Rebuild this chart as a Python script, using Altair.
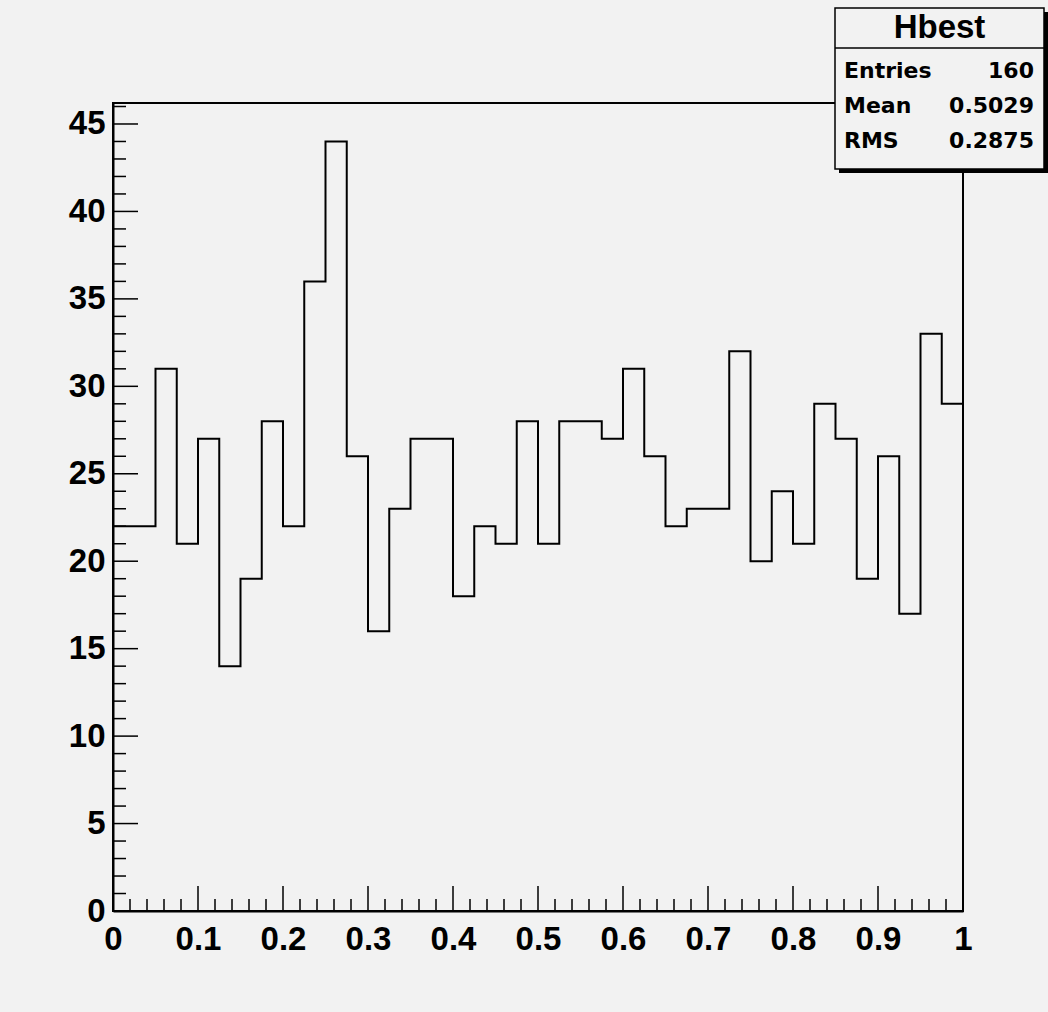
import altair as alt
import pandas as pd

# ---- data ----
n_bins = 40
x_min, x_max = 0.0, 1.0
counts = [22, 22, 31, 21, 27, 14, 19, 28, 22, 36,
          44, 26, 16, 23, 27, 27, 18, 22, 21, 28,
          21, 28, 28, 27, 31, 26, 22, 23, 23, 32,
          20, 24, 21, 29, 27, 19, 26, 17, 33, 29]

x_major_ticks = [0, 0.1, 0.2, 0.3, 0.4, 0.5, 0.6, 0.7, 0.8, 0.9, 1.0]
x_minor_ticks = [round(i * 0.02, 2) for i in range(51) if i % 5 != 0]
y_major_ticks = [0, 5, 10, 15, 20, 25, 30, 35, 40, 45]
y_minor_ticks = [i for i in range(47) if i % 5 != 0]
y_max = 46.2

stats_title = "Hbest"
stats_labels = ["Entries", "Mean", "RMS"]
stats_values = ["160", "0.5029", "0.2875"]

# ---- layout constants (style) ----
W, H = 850, 808
BG = "#f2f2f2"
FONT = "Liberation Sans"
STAT_FONT = "DejaVu Sans"

width_bin = (x_max - x_min) / n_bins
edges = [x_min + i * width_bin for i in range(n_bins)] + [x_max]
hist_df = pd.DataFrame({"x": edges, "y": counts + [counts[-1]]})

xscale = alt.Scale(domain=[x_min, x_max], nice=False, zero=False)
yscale = alt.Scale(domain=[0, y_max], nice=False)

xaxis = alt.Axis(values=x_major_ticks, format="~g", ticks=False,
                 grid=False, labelFlush=False, labelFontSize=33,
                 labelFontWeight="bold", labelFont=FONT,
                 labelColor="black", labelPadding=12,
                 domainColor="black", domainWidth=2, title=None)
yaxis = alt.Axis(values=y_major_ticks, ticks=False, grid=False,
                 labelFontSize=33, labelFontWeight="bold",
                 labelFont=FONT, labelColor="black", labelPadding=8,
                 domainColor="black", domainWidth=2, title=None)

hist = alt.Chart(hist_df).mark_line(
    interpolate="step-after", color="black", strokeWidth=2
).encode(
    x=alt.X("x:Q", scale=xscale, axis=xaxis),
    y=alt.Y("y:Q", scale=yscale, axis=yaxis),
)

def yticks(vals, length):
    return alt.Chart(pd.DataFrame({"y": vals})).mark_rule(
        color="black", strokeWidth=1.5
    ).encode(y=alt.Y("y:Q", scale=yscale, axis=yaxis),
             x=alt.value(0), x2=alt.value(length))

def xticks(vals, length):
    return alt.Chart(pd.DataFrame({"x": vals})).mark_rule(
        color="black", strokeWidth=1.5
    ).encode(x=alt.X("x:Q", scale=xscale, axis=xaxis),
             y=alt.value(H), y2=alt.value(H - length))

one = alt.Data(values=[{}])

# stats box (pixel positions relative to plot origin)
bx0, bx1, by0, by1 = 722, 931, -95, 66
shadow = alt.Chart(one).mark_rect(color="black").encode(
    x=alt.value(bx0 + 4), x2=alt.value(bx1 + 4),
    y=alt.value(by0 + 4), y2=alt.value(by1 + 4))
box = alt.Chart(one).mark_rect(fill=BG, stroke="black", strokeWidth=1.5).encode(
    x=alt.value(bx0), x2=alt.value(bx1), y=alt.value(by0), y2=alt.value(by1))
sep = alt.Chart(one).mark_rule(color="black", strokeWidth=1.5).encode(
    x=alt.value(bx0), x2=alt.value(bx1), y=alt.value(-55))
title_txt = alt.Chart(one).mark_text(
    font=FONT, fontSize=33, fontWeight="bold", align="center",
    baseline="middle", color="black"
).encode(x=alt.value((bx0 + bx1) / 2), y=alt.value(-75),
         text=alt.value(stats_title))

row_y = [-32, 3, 38]
stat_layers = []
for lab, val, yy in zip(stats_labels, stats_values, row_y):
    stat_layers.append(alt.Chart(one).mark_text(
        font=STAT_FONT, fontSize=22, fontWeight="bold", align="left",
        baseline="middle", color="black"
    ).encode(x=alt.value(bx0 + 9), y=alt.value(yy), text=alt.value(lab)))
    stat_layers.append(alt.Chart(one).mark_text(
        font=STAT_FONT, fontSize=22, fontWeight="bold", align="right",
        baseline="middle", color="black"
    ).encode(x=alt.value(bx1 - 10), y=alt.value(yy), text=alt.value(val)))

chart = alt.layer(
    hist,
    yticks(y_major_ticks, 25), yticks(y_minor_ticks, 13),
    xticks(x_major_ticks, 25), xticks(x_minor_ticks, 12),
    shadow, box, sep, title_txt, *stat_layers
).properties(
    width=W, height=H,
    autosize=alt.AutoSizeParams(type="none"),
    padding={"left": 113, "top": 103, "right": 85, "bottom": 101},
    background=BG,
).configure_view(
    stroke="black", strokeWidth=2, fill=BG
)

chart.save("out.html", embed_options={"renderer": "svg", "actions": False})
